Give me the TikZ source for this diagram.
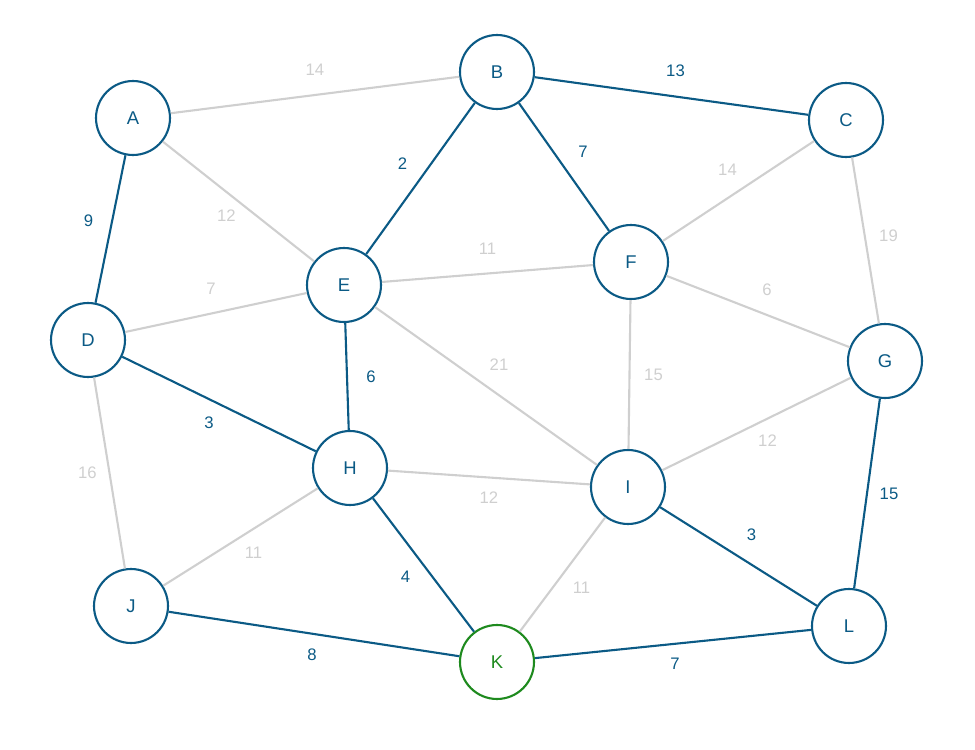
\documentclass[tikz,border=0pt]{standalone}
\usepackage{fontspec}
\setmainfont{Liberation Sans}
\definecolor{treeblue}{HTML}{0B5A85}
\definecolor{edgegray}{HTML}{CFCFCF}
\definecolor{startgreen}{HTML}{1E8A1E}
\tikzset{
  vertex/.style = {circle, draw = treeblue, line width = 1.2pt, minimum size = 1.48cm,
                   inner sep = 0pt, text = treeblue, font = \fontsize{10.5}{12}\selectfont},
  tree/.style = {draw = treeblue, line width = 1.2pt},
  rest/.style = {draw = edgegray, line width = 1.2pt},
  treelab/.style = {text = treeblue, font = \fontsize{9.5}{11}\selectfont},
  restlab/.style = {text = edgegray, font = \fontsize{9.5}{11}\selectfont}
}
\begin{document}
\begin{tikzpicture}[x = 0.02cm, y = -0.02cm]

\useasboundingbox (0,0) rectangle (975,750);

\node[vertex] (A) at (133,118) {A};
\node[vertex] (B) at (497,72) {B};
\node[vertex] (C) at (846,120) {C};
\node[vertex] (D) at (88,340) {D};
\node[vertex] (E) at (344,285) {E};
\node[vertex] (F) at (631,262) {F};
\node[vertex] (G) at (885,361) {G};
\node[vertex] (H) at (350,468) {H};
\node[vertex] (I) at (628,487) {I};
\node[vertex] (J) at (131,606) {J};
\node[vertex, draw = startgreen, text = startgreen] (K) at (497,662) {K};
\node[vertex] (L) at (849,626) {L};

% edges not in the tree
\foreach \u/\v/\w/\dx/\dy in {A/B/14/0/-25, A/E/12/-12/14, D/E/7/-5/-24, E/F/11/0/-25,
    C/F/14/-11/-21, C/G/19/23/-5, F/G/6/9/-22, E/I/21/13/-21, F/I/15/24/0,
    G/I/12/11/17, H/I/12/0/20, D/J/16/-22/0, H/J/11/13/16, I/K/11/19/13}
  \draw[rest] (\u) -- (\v) node[midway, restlab, xshift = \dx*0.02cm, yshift = -\dy*0.02cm] {\w};

% tree edges
\foreach \u/\v/\w/\dx/\dy in {A/D/9/-22/-8, B/E/2/-18/-15, B/F/7/19/-15, B/C/13/4/-25,
    E/H/6/24/0, D/H/3/-10/19, H/K/4/-18/12, J/K/8/-2/21, K/L/7/2/20,
    I/L/3/13/-22, G/L/15/22/0}
  \draw[tree] (\u) -- (\v) node[midway, treelab, xshift = \dx*0.02cm, yshift = -\dy*0.02cm] {\w};

\end{tikzpicture}
\end{document}
